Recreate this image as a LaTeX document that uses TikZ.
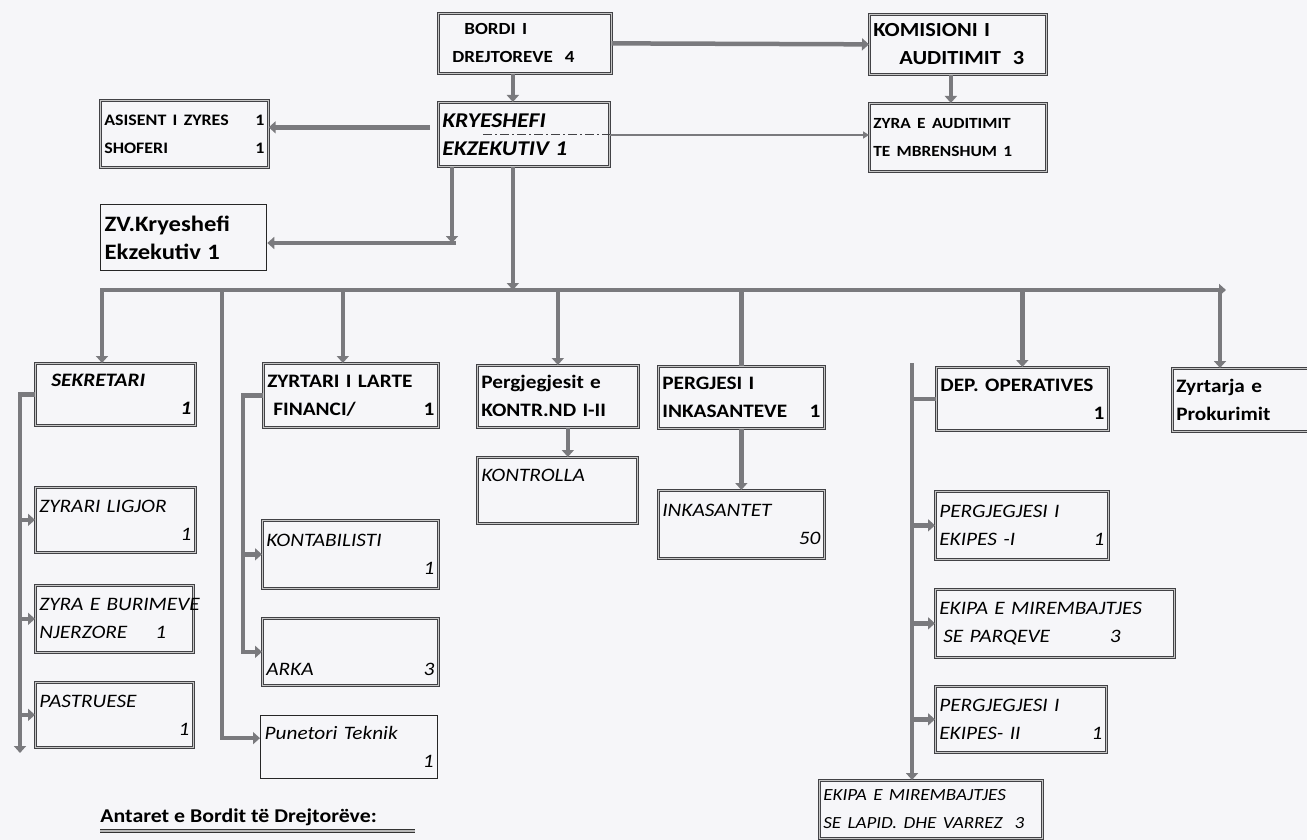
\documentclass[tikz,border=0pt]{standalone}
\usepackage{fontspec}
\setmainfont{Carlito}[FakeStretch=1.12]
\usepackage{tikz}
\usetikzlibrary{arrows.meta}
\definecolor{paper}{RGB}{246,246,249}
\definecolor{linegray}{RGB}{122,122,126}
\definecolor{rim}{RGB}{66,66,70}
\tikzset{every picture/.style={line width=0.75pt}}
\tikzset{
  boxbase/.style 2 args={fill=paper, anchor=north west, inner xsep=4pt, inner ysep=2pt,
    align=left, text width=#1, minimum height=#2, font=\fontsize{19}{28}\selectfont},
  box/.style 2 args={boxbase={#1}{#2}, draw=rim, line width=0.7pt, double=gray!45, double distance=1.3pt},
  sbox/.style 2 args={boxbase={#1}{#2}, draw=black!85, line width=1.3pt},
  conn/.style={draw=linegray, line width=4.5pt, -{Triangle[length=7pt,width=12pt]}},
  link/.style={draw=linegray, line width=4.5pt},
  thinconn/.style={draw=linegray, line width=2pt, -{Triangle[length=6pt,width=7pt]}},
}

\begin{document}
\begin{tikzpicture}[x=1pt,y=-1pt]
\fill[paper] (0,0) rectangle (1307,840);
\useasboundingbox (0,0) rectangle (1307,840);

\node[box={165pt}{60pt}] (bordi) at (438,13) {\fontsize{17}{28}\selectfont\bfseries\hspace*{22pt}BORDI I\\\hspace*{10pt}DREJTOREVE\hspace{12pt}4};
\node[box={169pt}{60pt}] (kom) at (869,14) {\fontsize{20}{28}\selectfont\bfseries KOMISIONI I\\\hspace*{26pt}AUDITIMIT\hspace{12pt}3};
\node[box={163pt}{64pt}] (kry) at (438,102) {\fontsize{21}{28}\selectfont\bfseries\itshape KRYESHEFI\\EKZEKUTIV 1};
\node[box={169pt}{68pt}] (zaud) at (869,103) {\fontsize{15.5}{28}\selectfont\bfseries ZYRA E AUDITIMIT\\TE MBRENSHUM 1};
\node[box={160pt}{67pt}] (asi) at (100,100) {\fontsize{16}{28}\selectfont\bfseries ASISENT I ZYRES\hfill 1\\SHOFERI\hfill 1};
\node[sbox={158pt}{66pt}] (zv) at (100,204) {\fontsize{22}{30}\selectfont\bfseries ZV.Kryeshefi\\Ekzekutiv 1};

\node[box={152pt}{62pt}] (sek) at (35,363) {\bfseries\itshape\hspace*{12pt}SEKRETARI\\\mbox{}\hfill 1};
\node[box={152pt}{65pt}] (lig) at (35,487) {\itshape ZYRARI LIGJOR\\\mbox{}\hfill 1};
\node[box={150pt}{67pt}] (bur) at (35,585) {\itshape\mbox{ZYRA E BURIMEVE}\\NJERZORE\hspace{28pt}1};
\node[box={150pt}{65pt}] (pas) at (35,682) {\itshape PASTRUESE\\\mbox{}\hfill 1};
\node[sbox={169pt}{63pt}] (pun) at (260,715) {\itshape Punetori Teknik\\\mbox{}\hfill 1};

\node[box={167pt}{64pt}] (zl) at (263,363) {\bfseries ZYRTARI I LARTE\\\hspace*{6pt}FINANCI/\hfill 1};
\node[box={168pt}{68pt}] (kont) at (262,520) {\itshape KONTABILISTI\\\mbox{}\hfill 1};
\node[box={168pt}{67pt}] (arka) at (262,618) {\itshape\strut\\ARKA\hfill 3};

\node[box={153pt}{62pt}] (pergj) at (477,365) {\bfseries Pergjegjesit e\\KONTR.ND I-II};
\node[box={152pt}{66pt}] (kontr) at (477,457) {\itshape KONTROLLA\strut\\\strut};
\node[box={158pt}{62pt}] (pgs) at (658,366) {\bfseries PERGJESI I\\INKASANTEVE\hfill 1};
\node[box={158pt}{68pt}] (ink) at (658,490) {\itshape INKASANTET\\\mbox{}\hfill 50};

\node[box={164pt}{63pt}] (dep) at (936,367) {\bfseries DEP. OPERATIVES\\\mbox{}\hfill 1};
\node[box={140pt}{63pt}] (prok) at (1172,368) {\bfseries Zyrtarja e\\Prokurimit};
\node[box={165pt}{68pt}] (ek1) at (935,491) {\itshape PERGJEGJESI I\\EKIPES -I\hfill 1\hspace*{6pt}};
\node[box={231pt}{68pt}] (park) at (935,589) {\itshape EKIPA E MIREMBAJTJES\\\hspace*{4pt}SE PARQEVE\hspace{60pt}3};
\node[box={163pt}{66pt}] (ek2) at (935,686) {\itshape PERGJEGJESI I\\EKIPES- II\hfill 1\hspace*{6pt}};
\node[box={215pt}{58pt}] (lapid) at (819,780) {\fontsize{17}{26}\selectfont\itshape EKIPA E MIREMBAJTJES\\SE LAPID. DHE VARREZ\hspace{12pt}3};

\node[anchor=base west, inner sep=0pt, font=\fontsize{19.5}{22}\selectfont\bfseries] (ant) at (100,822) {Antaret e Bordit të Drejtorëve:};
\draw[draw=black!80, line width=0.9pt, double=gray!55, double distance=1.4pt] ([yshift=-9pt]ant.base west) -- ++(315,0);

\coordinate (busL) at (102,290);
\coordinate (busR) at (1226,290);
\coordinate (tek) at (222,290);
\coordinate (opTop) at (912,363);
\coordinate (dd) at (483,135);
\coordinate (zvC) at (452,243);
\coordinate (sekEnd) at (20,753);
\coordinate (finX) at (243,0);

\draw[conn] ([xshift=-12pt]bordi.south) -- ([xshift=-12pt]bordi.south |- kry.north);
\draw[conn] (bordi.east) -- (kom.west);
\draw[conn] ([xshift=-7pt]kom.south) -- ([xshift=-7pt]kom.south |- zaud.north);
\draw[draw=rim, line width=1pt, dash pattern=on 9pt off 3pt on 2pt off 3pt] (dd) -- (dd -| kry.east);
\draw[thinconn] (dd -| kry.east) -- (dd -| zaud.west);
\draw[conn, shorten <=8pt] ([yshift=7pt]kry.west) -- ([yshift=7pt]kry.west -| asi.east);
\draw[conn] ([xshift=14pt]kry.south west) -- (zvC);
\draw[conn] ([xshift=4pt]zvC) -- (zvC -| zv.east);
\draw[conn] ([xshift=-11pt]kry.south) -- ([xshift=-11pt]kry.south |- busL);

\draw[conn] ([xshift=-2pt]busL) -- (busR);
\draw[conn] (busL) -- (busL |- sek.north);
\draw[conn] (tek) |- ([yshift=9pt]pun.west);
\draw[conn] ([xshift=-8pt]zl.north |- busL) -- ([xshift=-8pt]zl.north);
\draw[conn] (pergj.north |- busL) -- (pergj.north);
\draw[link] (pgs.north |- busL) -- (pgs.north);
\draw[conn] (dep.north |- busL) -- (dep.north);
\draw[conn] ([xshift=-6pt]busR) -- ([xshift=-6pt]busR |- prok.north);

\draw[conn] (sek.west) -| (sekEnd);
\draw[conn] (sekEnd |- lig.west) -- (lig.west);
\draw[conn] (sekEnd |- bur.west) -- (bur.west);
\draw[conn] (sekEnd |- pas.west) -- (pas.west);

\draw[conn] (zl.west) -| (finX |- arka.west) -- (arka.west);
\draw[conn] (finX |- kont.west) -- (kont.west);

\draw[conn] ([xshift=10pt]pergj.south) -- ([xshift=10pt]pergj.south |- kontr.north);
\draw[conn] (pgs.south) -- (ink.north);

\draw[conn] (opTop) -- (opTop |- lapid.north);
\draw[link] (opTop |- dep.west) -- (dep.west);
\draw[conn] (opTop |- ek1.west) -- (ek1.west);
\draw[conn] (opTop |- park.west) -- (park.west);
\draw[conn] (opTop |- ek2.west) -- (ek2.west);
\end{tikzpicture}
\end{document}
